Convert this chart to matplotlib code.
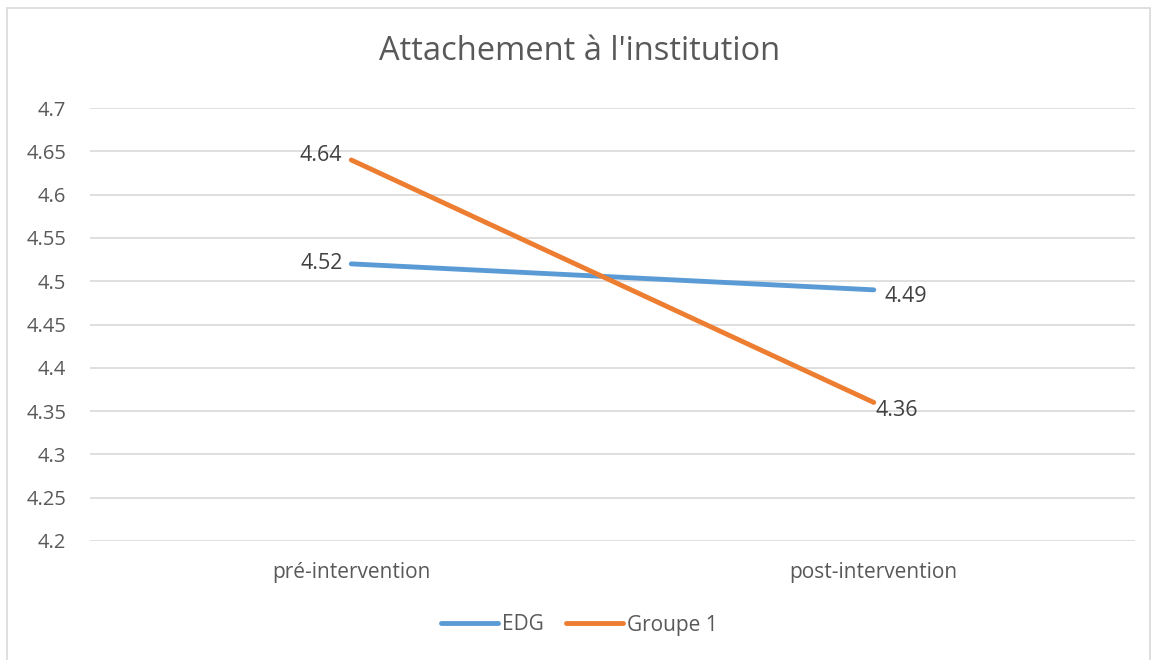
import matplotlib
matplotlib.use("Agg")
import matplotlib.pyplot as plt
from matplotlib.patches import Rectangle

categories = ["pré-intervention", "post-intervention"]
edg = [4.52, 4.49]
groupe1 = [4.64, 4.36]
yticks = [4.2, 4.25, 4.3, 4.35, 4.4, 4.45, 4.5, 4.55, 4.6, 4.65, 4.7]

plt.rcParams['font.family'] = ['Open Sans', 'DejaVu Sans']
txt = '#595959'
blue = '#5B9BD5'
orange = '#ED7D31'

fig = plt.figure(figsize=(11.59, 6.60), dpi=100)
ax = fig.add_axes([90 / 1159, 1 - 541 / 660, 1045 / 1159, 433 / 660])

x = range(len(categories))
ax.plot(x, edg, color=blue, lw=3.5, solid_capstyle='round', label='EDG')
ax.plot(x, groupe1, color=orange, lw=3.5, solid_capstyle='round', label='Groupe 1')

# data labels
lab = dict(textcoords='offset points', va='center', fontsize=15.5, color='#404040')
ax.annotate(f"{edg[0]:.2f}", (0, edg[0]), xytext=(-6, 0), ha='right', **lab)
ax.annotate(f"{groupe1[0]:.2f}", (0, groupe1[0]), xytext=(-7, 3.5), ha='right', **lab)
ax.annotate(f"{edg[1]:.2f}", (1, edg[1]), xytext=(8, -5), ha='left', **lab)
ax.annotate(f"{groupe1[1]:.2f}", (1, groupe1[1]), xytext=(1, -6), ha='left', **lab)

ax.set_xlim(-0.5, 1.5)
ax.set_ylim(4.2, 4.7)
ax.set_yticks(yticks)
ax.set_yticklabels([f"{v:g}" for v in yticks])
ax.set_xticks(list(x))
ax.set_xticklabels(categories)
ax.tick_params(axis='both', length=0, labelcolor=txt)
ax.tick_params(axis='y', pad=17, labelsize=14.5)
ax.tick_params(axis='x', pad=15, labelsize=15)
ax.grid(axis='y', color='#D9D9D9', lw=1.2)
ax.set_axisbelow(True)
for s in ax.spines.values():
    s.set_visible(False)

fig.text(0.5, 1 - 52 / 660, "Attachement à l'institution", ha='center', va='center',
         fontsize=23.5, color=txt)

fig.legend(loc='center', bbox_to_anchor=(0.5, 1 - 625 / 660), ncol=2, frameon=False,
           fontsize=15, labelcolor=txt, handlelength=2.7, handletextpad=0.2,
           columnspacing=1.1)

# chart border
fig.patches.append(Rectangle((7 / 1159, -0.05), 1143 / 1159, 1.05 - 8 / 660,
                             transform=fig.transFigure, fill=False,
                             edgecolor='#D9D9D9', lw=1.2))

fig.savefig("out.png", dpi=100)
